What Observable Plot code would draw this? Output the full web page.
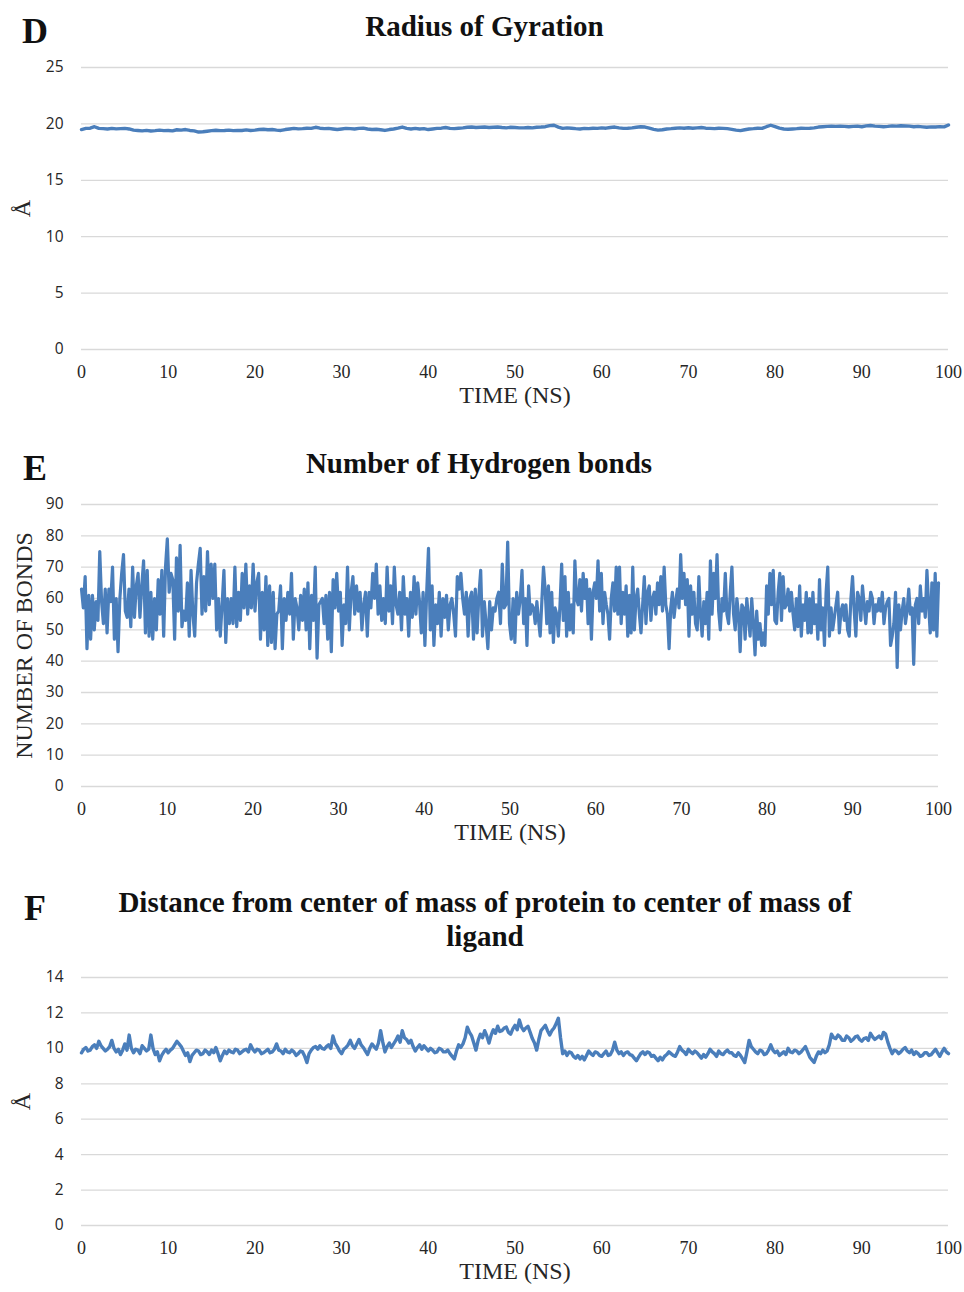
<!DOCTYPE html>
<html><head><meta charset="utf-8">
<script src="https://cdn.jsdelivr.net/npm/d3@7"></script>
<script src="https://cdn.jsdelivr.net/npm/@observablehq/plot@0.6"></script>
<style>
body{margin:0;background:#fff;}
#wrap{position:relative;width:964px;height:1292px;overflow:hidden;}
#wrap svg{position:absolute;left:0;}
</style></head><body><div id="wrap"></div>
<script>
// ---------- data ----------
const timeTicks = [0,10,20,30,40,50,60,70,80,90,100];
const rgTicks = [0,5,10,15,20,25];
const hbTicks = [0,10,20,30,40,50,60,70,80,90];
const comTicks = [0,2,4,6,8,10,12,14];

const titleD = "Radius of Gyration";
const titleE = "Number of Hydrogen bonds";
const titleF1 = "Distance from center of mass of protein to center of mass of";
const titleF2 = "ligand";
const xTitle = "TIME (NS)";
const yTitleD = "Å";
const yTitleE = "NUMBER OF BONDS";
const yTitleF = "Å";

// Radius of gyration (Å), one value every 0.5 ns from 0 to 100 ns
const rgStep = 0.5;
const rgValues = [
19.5,19.6,19.62,19.75,19.6,19.58,19.55,19.6,19.56,19.58,
19.6,19.55,19.45,19.42,19.38,19.43,19.37,19.4,19.45,19.4,
19.42,19.38,19.48,19.45,19.5,19.42,19.38,19.28,19.3,19.35,
19.4,19.44,19.4,19.42,19.45,19.4,19.43,19.42,19.47,19.42,
19.45,19.5,19.53,19.48,19.5,19.45,19.42,19.5,19.55,19.6,
19.56,19.58,19.62,19.6,19.7,19.62,19.58,19.6,19.55,19.5,
19.55,19.6,19.58,19.55,19.6,19.62,19.55,19.5,19.52,19.48,
19.42,19.5,19.55,19.62,19.72,19.6,19.55,19.6,19.55,19.58,
19.5,19.55,19.6,19.62,19.68,19.6,19.58,19.62,19.65,19.7,
19.72,19.68,19.7,19.72,19.68,19.7,19.72,19.68,19.65,19.7,
19.68,19.65,19.65,19.68,19.65,19.7,19.72,19.75,19.85,19.88,
19.72,19.6,19.65,19.62,19.58,19.55,19.6,19.58,19.62,19.6,
19.65,19.62,19.68,19.72,19.65,19.6,19.62,19.65,19.7,19.75,
19.72,19.62,19.52,19.45,19.48,19.55,19.58,19.62,19.65,19.62,
19.66,19.62,19.65,19.68,19.62,19.6,19.58,19.62,19.6,19.58,
19.52,19.45,19.4,19.48,19.55,19.58,19.62,19.6,19.75,19.88,
19.75,19.62,19.55,19.52,19.55,19.58,19.62,19.6,19.62,19.65,
19.72,19.75,19.78,19.8,19.78,19.8,19.78,19.75,19.78,19.8,
19.75,19.82,19.86,19.8,19.78,19.75,19.78,19.82,19.8,19.84,
19.82,19.8,19.75,19.78,19.74,19.7,19.74,19.72,19.76,19.74,
19.9
];

// Number of hydrogen bonds, read in three stretches of the time axis
const hbSegTimes = [[0,27.7],[28.1,51.2],[51.4,100]];
const hbSeg1 = [
63,57,67,44,61,47,61,50,59,53, 75,59,52,63,49,63,59,70,47,60,
43,60,68,74,56,54,63,51,70,54, 64,68,54,64,72,49,69,48,62,47,
60,50,66,55,69,48,70,79,62,68, 66,47,73,56,77,51,56,53,65,48,
69,55,48,65,71,76,55,67,56,75, 58,71,60,71,50,60,48,58,69,46,
60,52,60,52,70,51,62,53,68,57, 71,55,64,57,71,56,65,68,47,62,
50,67,45,64,46,62,44,55,56,64, 44,60,53,62,55,68,47,60,57,50,
61,53,63,50,65,44,61,53,70,41, 58
];
const hbSeg2 = [
60,52,61,47,62,43,66,57,68,56, 62,45,58,52,70,50,62,67,55,64,
56,62,50,58,62,48,62,57,68,60, 71,55,64,53,60,52,70,56,64,52,
70,58,55,62,50,67,55,60,48,62, 54,67,55,65,59,49,62,45,62,76,
50,64,45,58,52,62,48,60,54,61, 50,58,60,55,48,67,63,68,60,55,
62,48,60,62,47,63,49,61,69,48, 59,52,44,59,50,57,56,60,62,52,
71,57,58,78,52,47,60,46,62,55, 60
];
const hbSeg3 = [
69,52,60,45,64,55,58,57,52,59, 53,48,59,70,63,52,64,49,62,46,
57,55,48,58,71,53,67,48,62,50, 58,49,72,60,58,66,56,68,60,66,
52,63,47,62,65,60,72,56,68,52, 62,58,55,47,60,65,56,70,55,70,
52,62,55,64,48,61,49,70,50,60, 63,55,49,58,67,52,62,64,53,60,
62,55,65,58,67,56,70,58,55,44, 57,62,54,59,63,57,74,60,68,58,
66,48,64,55,62,52,50,67,55,48, 59,52,62,47,72,55,68,60,74,56,
50,60,56,68,55,52,62,70,55,50, 60,55,43,58,57,47,60,54,48,60,
52,42,56,47,52,45,49,45,64,55, 68,58,69,53,52,62,68,53,67,57,
58,63,56,62,55,50,60,51,64,48, 58,53,62,49,60,49,62,52,58,47,
66,50,57,45,62,70,48,57,50,54, 58,62,49,56,58,53,58,50,48,60,
67,56,48,62,60,53,64,58,52,59, 56,62,60,52,58,56,60,56,62,52,
57,59,60,45,48,52,62,38,58,50, 56,60,52,56,63,55,57,39,58,60,
52,64,56,60,54,69,58,49,65,50, 68,48,65
];

// Protein–ligand centre-of-mass distance (Å), one value every 0.25 ns
const comStep = 0.25;
const comValues = [
9.75,9.95,10.05,9.85,9.9,10.1,10.2,10.0,10.4,10.15,10.0,9.85,9.95,10.1,10.45,10.0,9.8,9.95,9.65,9.9,
10.25,9.9,10.75,10.0,9.75,9.95,9.9,9.7,10.15,10.0,9.85,9.95,10.75,10.0,9.65,9.8,9.3,9.6,9.8,9.95,
9.75,9.9,10.0,10.2,10.4,10.25,10.1,9.85,9.6,9.75,9.25,9.6,9.75,9.9,9.85,9.65,9.7,9.9,9.8,9.65,
9.9,9.75,10.05,9.7,9.3,9.6,9.85,9.7,9.9,9.8,9.75,9.95,9.9,9.7,9.8,9.9,9.95,9.8,10.2,9.95,
9.8,9.95,9.9,9.7,9.75,9.85,9.95,9.75,9.8,9.95,10.25,9.9,9.85,9.7,9.95,9.8,9.75,9.9,9.8,9.6,
9.7,9.85,9.8,9.55,9.2,9.7,9.9,10.05,10.1,9.95,10.15,10.0,9.95,10.1,10.2,10.0,10.7,10.3,10.1,9.85,
9.7,9.95,10.05,10.2,10.45,10.15,10.0,10.25,10.5,10.2,10.05,9.85,9.65,10.0,10.25,10.1,9.95,10.3,11.0,10.35,
9.8,10.1,10.3,10.05,10.25,10.45,10.7,10.35,11.0,10.6,10.5,10.3,10.45,10.1,9.85,10.05,10.2,9.95,10.15,10.0,
9.85,10.0,9.9,9.75,9.8,10.0,9.95,9.8,9.8,9.9,9.7,9.55,9.4,9.85,10.2,10.05,10.25,10.6,11.2,10.9,
10.7,10.3,9.9,10.45,10.8,10.6,11.0,10.7,10.3,10.75,11.05,10.85,11.25,10.95,11.0,11.15,11.2,10.9,10.8,11.1,
11.3,11.05,11.6,11.2,11.0,11.15,11.25,10.9,10.55,10.3,9.9,10.5,11.0,11.15,11.3,11.0,10.75,11.0,11.15,11.4,
11.7,10.6,9.7,9.85,9.6,9.8,9.75,9.55,9.45,9.6,9.4,9.55,9.35,9.6,9.85,9.7,9.6,9.8,9.75,9.6,
9.55,9.7,9.85,9.6,9.65,9.9,10.35,9.9,9.7,9.8,9.6,9.75,9.8,9.65,9.6,9.45,9.3,9.5,9.7,9.8,
9.65,9.8,9.75,9.55,9.6,9.45,9.3,9.5,9.35,9.55,9.65,9.8,9.7,9.6,9.55,9.8,10.1,9.9,9.8,9.65,
9.95,9.8,9.7,9.85,9.75,9.6,9.45,9.65,9.5,9.7,9.95,9.8,9.7,9.55,9.85,9.7,9.65,9.8,9.9,9.75,
9.75,9.6,9.55,9.75,9.6,9.4,9.2,9.8,10.45,10.1,9.95,9.8,9.7,9.9,9.85,9.65,9.7,9.9,10.2,9.9,
9.75,9.85,9.6,9.7,9.8,9.65,10.0,9.8,9.75,9.9,9.85,9.7,9.8,9.95,10.1,9.8,9.5,9.35,9.2,9.55,
9.8,9.7,9.9,9.75,9.85,10.2,10.8,10.6,10.55,10.75,10.65,10.45,10.45,10.7,10.6,10.4,10.5,10.65,10.7,10.5,
10.4,10.55,10.6,10.45,10.85,10.65,10.5,10.6,10.7,10.55,10.9,10.8,10.35,10.0,9.7,9.9,9.85,9.7,9.8,9.95,
10.05,9.85,9.75,9.9,9.65,9.8,9.7,9.55,9.6,9.75,9.75,9.6,9.65,9.8,9.95,9.75,9.55,9.8,10.0,9.8,
9.7
];

// ---------- tables ----------
const rgData = rgValues.map((v, i) => ({t: i * rgStep, v}));
const comData = comValues.map((v, i) => ({t: i * comStep, v}));
const hbData = [hbSeg1, hbSeg2, hbSeg3].flatMap((vals, s) => {
  const [a, b] = hbSegTimes[s];
  return vals.map((v, j) => ({t: a + j * (b - a) / (vals.length - 1), v}));
});

// ---------- styles ----------
const LINE = "#4a7ebb";
const GRID = "#d9d9d9";
const SERIF = "'Liberation Serif', 'Times New Roman', serif";
const SANS = "'Open Sans', 'Liberation Sans', sans-serif";
const C = {textAnchor: "middle", lineAnchor: "middle"};

function panel({top, height, marginTop, marginBottom, marginRight, yDomain, yTicks, data,
                titles, letter, letterDy, yTitle, yTitleDx, yTitleSize, lineWidth}) {
  const marks = [
    Plot.gridY(yTicks, {stroke: GRID, strokeOpacity: 1, strokeWidth: 1.3}),
    Plot.axisY(yTicks, {tickSize: 0, tickPadding: 18, fontSize: 15.5, fontFamily: SANS, fill: "#262626", label: null}),
    Plot.axisX(timeTicks, {tickSize: 0, tickPadding: 16, fontSize: 18, fontFamily: SERIF, fill: "#262626", label: null}),
    Plot.lineY(data, {x: "t", y: "v", stroke: LINE, strokeWidth: lineWidth, strokeLinejoin: "round", strokeLinecap: "round"}),
    Plot.text([xTitle], {...C, text: d => d, frameAnchor: "bottom", dy: 46, fontSize: 24, fontFamily: SERIF, fill: "#262626"}),
    Plot.text([yTitle], {...C, text: d => d, frameAnchor: "left", dx: yTitleDx, rotate: -90, fontSize: yTitleSize, fontFamily: SERIF, fill: "#262626"}),
    Plot.text([letter], {...C, text: d => d, frameAnchor: "top-left", dx: -46.5, dy: letterDy, fontSize: 36, fontWeight: "bold", fontFamily: SERIF, fill: "#111"})
  ];
  for (const tt of titles) {
    marks.push(Plot.text([tt.s], {...C, text: d => d, frameAnchor: "top", dx: tt.dx, dy: tt.dy, fontSize: 29, fontWeight: "bold", fontFamily: SERIF, fill: "#111"}));
  }
  const svg = Plot.plot({
    width: 964, height, marginTop, marginBottom, marginLeft: 81, marginRight,
    x: {domain: [0, 100]},
    y: {domain: yDomain},
    style: {background: "transparent", overflow: "visible"},
    marks
  });
  svg.style.top = top + "px";
  document.getElementById("wrap").appendChild(svg);
}

panel({top: 0, height: 430, marginTop: 67, marginBottom: 81, marginRight: 16,
  yDomain: [0, 25], yTicks: rgTicks, data: rgData,
  titles: [{s: titleD, dx: -30.5, dy: -41}], letter: "D", letterDy: -36,
  yTitle: yTitleD, yTitleDx: -59, yTitleSize: 24, lineWidth: 3.4});

panel({top: 430, height: 430, marginTop: 74, marginBottom: 74, marginRight: 26,
  yDomain: [0, 90], yTicks: hbTicks, data: hbData,
  titles: [{s: titleE, dx: -31, dy: -41}], letter: "E", letterDy: -36,
  yTitle: yTitleE, yTitleDx: -57, yTitleSize: 24, lineWidth: 3.2});

panel({top: 860, height: 432, marginTop: 117, marginBottom: 67, marginRight: 16,
  yDomain: [0, 14], yTicks: comTicks, data: comData,
  titles: [{s: titleF1, dx: -30, dy: -75}, {s: titleF2, dx: -30, dy: -41}], letter: "F", letterDy: -69.5,
  yTitle: yTitleF, yTitleDx: -59, yTitleSize: 24, lineWidth: 3.4});
</script>
</body></html>
